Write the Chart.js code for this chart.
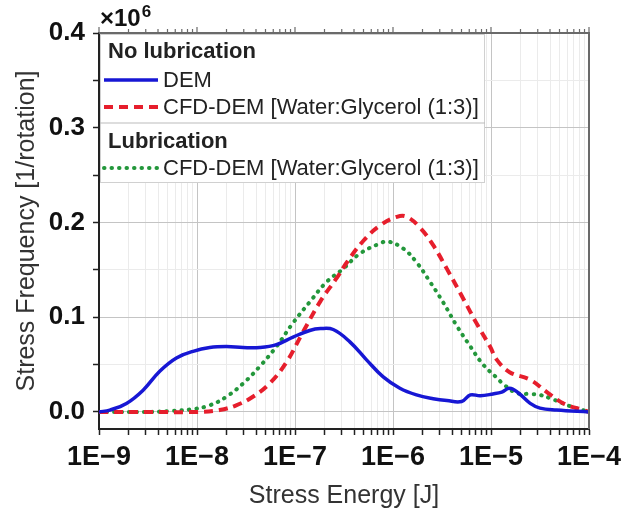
<!DOCTYPE html>
<html>
<head>
<meta charset="utf-8">
<script src="https://cdn.jsdelivr.net/npm/chart.js@4"></script>
<style>
  body { margin: 0; background: #fff; }
  #wrap { width: 638px; height: 517px; }
</style>
</head>
<body>
<div id="wrap"><canvas id="stress"></canvas></div>
<script>
const FONT = "'Liberation Sans', Arial, sans-serif";

// stress energy as log10(E / J), frequency in units of 1e6 per rotation
const demExp = [-9, -8.89, -8.72, -8.55, -8.38, -8.21, -8.04, -7.87, -7.70, -7.53, -7.36, -7.19, -7.02, -6.85, -6.74, -6.61, -6.44, -6.27, -6.10, -5.93, -5.76, -5.59, -5.45, -5.30, -5.21, -5.11, -4.98, -4.89, -4.81, -4.72, -4.60, -4.50, -4.33, -4];
const demFreq = [0, 0.002, 0.009, 0.023, 0.043, 0.057, 0.064, 0.068, 0.069, 0.068, 0.068, 0.071, 0.079, 0.086, 0.088, 0.087, 0.074, 0.055, 0.037, 0.025, 0.018, 0.014, 0.012, 0.011, 0.018, 0.017, 0.019, 0.021, 0.025, 0.020, 0.009, 0.004, 0.002, 0];

const cfdExp = [-9, -8.5, -8.0, -7.77, -7.6, -7.43, -7.26, -7.09, -6.92, -6.74, -6.57, -6.47, -6.30, -6.13, -5.96, -5.86, -5.72, -5.59, -5.45, -5.28, -5.15, -5.01, -4.94, -4.81, -4.60, -4.43, -4.26, -4.06, -4];
const cfdFreq = [0, 0, 0, 0.002, 0.007, 0.016, 0.030, 0.052, 0.084, 0.117, 0.142, 0.158, 0.181, 0.197, 0.206, 0.206, 0.194, 0.176, 0.151, 0.119, 0.094, 0.069, 0.055, 0.042, 0.034, 0.021, 0.009, 0.002, 0];

const lubExp = [-9, -8.5, -8.28, -8.04, -7.87, -7.70, -7.53, -7.36, -7.19, -7.02, -6.85, -6.68, -6.51, -6.34, -6.13, -6.05, -5.89, -5.76, -5.62, -5.49, -5.35, -5.21, -5.08, -4.94, -4.87, -4.74, -4.60, -4.50, -4.36, -4.19, -4];
const lubFreq = [0, 0, 0.001, 0.003, 0.007, 0.016, 0.030, 0.048, 0.069, 0.094, 0.116, 0.137, 0.151, 0.167, 0.178, 0.180, 0.172, 0.158, 0.137, 0.116, 0.091, 0.069, 0.050, 0.036, 0.029, 0.020, 0.019, 0.018, 0.013, 0.006, 0];

const seriesLabels = ["DEM", "CFD-DEM [Water:Glycerol (1:3)]", "CFD-DEM [Water:Glycerol (1:3)]"];
const groupTitles = ["No lubrication", "Lubrication"];

const decades = [-9, -8, -7, -6, -5, -4];
const freqTicks = [0, 0.05, 0.1, 0.15, 0.2, 0.25, 0.3, 0.35, 0.4];

function toPoints(exps, vals) {
  return exps.map((e, i) => ({ x: Math.pow(10, e), y: vals[i] }));
}

function isDecade(v) {
  const l = Math.log10(v);
  return Math.abs(l - Math.round(l)) < 1e-9;
}

// 1..9 x 10^k for every decade, ending at the last decade
const xTicks = [];
decades.forEach((d, i) => {
  const last = i === decades.length - 1;
  for (let m = 1; m <= (last ? 1 : 9); m++) xTicks.push(m * Math.pow(10, d));
});

const framePlugin = {
  id: "frameAndKey",
  afterDraw(chart) {
    const { ctx, chartArea: a, scales } = chart;
    const ds = chart.data.datasets;
    ctx.save();

    // key box
    const boxL = a.left + 1, boxT = a.top + 1;
    const boxR = 485, boxB = a.top + 150;
    ctx.fillStyle = "#fff";
    ctx.fillRect(boxL, boxT, boxR - boxL, boxB - boxT);
    ctx.strokeStyle = "#d0d0d0";
    ctx.lineWidth = 1;
    ctx.strokeRect(boxL + 0.5, boxT + 0.5, boxR - boxL - 1, boxB - boxT - 1);
    ctx.beginPath();
    ctx.moveTo(boxL, a.top + 90);
    ctx.lineTo(boxR, a.top + 90);
    ctx.strokeStyle = "#bbb";
    ctx.stroke();

    ctx.textBaseline = "middle";
    ctx.fillStyle = "#222";
    ctx.font = "bold 22px " + FONT;
    ctx.fillText(groupTitles[0], boxL + 8, a.top + 19);
    ctx.fillText(groupTitles[1], boxL + 8, a.top + 109);

    const rows = [a.top + 47, a.top + 74, a.top + 135];
    ctx.font = "22px " + FONT;
    ds.forEach((d, i) => {
      const y = rows[i];
      ctx.save();
      ctx.strokeStyle = d.borderColor;
      ctx.lineWidth = d.borderWidth;
      ctx.lineCap = d.borderCapStyle || "butt";
      ctx.setLineDash(d.borderDash || []);
      ctx.beginPath();
      ctx.moveTo(boxL + 4, y);
      ctx.lineTo(boxL + 58, y);
      ctx.stroke();
      ctx.restore();
      ctx.fillText(d.label, boxL + 63, y + 1);
    });

    // top and right edges of the frame with ticks along the top
    ctx.strokeStyle = "#6a6a6a";
    ctx.lineWidth = 2;
    ctx.beginPath();
    ctx.moveTo(a.left, a.top);
    ctx.lineTo(a.right, a.top);
    ctx.lineTo(a.right, a.bottom);
    ctx.stroke();
    ctx.lineWidth = 1.2;
    xTicks.forEach(v => {
      const px = scales.x.getPixelForValue(v);
      ctx.beginPath();
      ctx.moveTo(px, a.top);
      ctx.lineTo(px, a.top - (isDecade(v) ? 6 : 4));
      ctx.stroke();
    });

    // axis multiplier
    ctx.fillStyle = "#111";
    ctx.textBaseline = "alphabetic";
    ctx.font = "bold 24px " + FONT;
    ctx.fillText("\u00d710", a.left + 1, 26);
    const w = ctx.measureText("\u00d710").width;
    ctx.font = "bold 17px " + FONT;
    ctx.fillText("6", a.left + 2 + w, 17);
    ctx.restore();
  }
};

new Chart(document.getElementById("stress"), {
  type: "line",
  data: {
    datasets: [
      {
        label: seriesLabels[0],
        data: toPoints(demExp, demFreq),
        borderColor: "#1717d4",
        borderWidth: 3.5,
      },
      {
        label: seriesLabels[1],
        data: toPoints(cfdExp, cfdFreq),
        borderColor: "#e61e2c",
        borderWidth: 4,
        borderDash: [9, 6],
      },
      {
        label: seriesLabels[2],
        data: toPoints(lubExp, lubFreq),
        borderColor: "#23973b",
        borderWidth: 4,
        borderDash: [0.5, 7],
        borderCapStyle: "round",
      },
    ],
  },
  options: {
    animation: false,
    responsive: true,
    maintainAspectRatio: false,
    layout: { padding: { top: 33, right: 49, left: 0, bottom: 0 } },
    elements: {
      point: { radius: 0 },
      line: { tension: 0.4, fill: false },
    },
    plugins: {
      legend: { display: false },
      tooltip: { enabled: false },
    },
    scales: {
      x: {
        type: "logarithmic",
        min: 1e-9,
        max: 1e-4,
        afterBuildTicks: (scale) => { scale.ticks = xTicks.map(v => ({ value: v })); },
        afterFit: (scale) => { scale.height = 88; },
        ticks: {
          autoSkip: false,
          maxRotation: 0,
          padding: 6,
          color: "#111",
          font: { family: FONT, size: 27, weight: "bold" },
          callback: (v) => isDecade(v) ? "1E\u2212" + Math.abs(Math.round(Math.log10(v))) : "",
        },
        grid: {
          color: (c) => isDecade(c.tick.value) ? "#c4c4c4" : "#ebebeb",
          lineWidth: 1,
          tickColor: "#222",
          tickLength: 6,
          tickWidth: 1.5,
        },
        border: { color: "#222", width: 2 },
        title: {
          display: true,
          text: "Stress Energy [J]",
          color: "#333",
          font: { family: FONT, size: 25 },
          padding: { top: 0, bottom: 6 },
        },
      },
      y: {
        min: -0.018,
        max: 0.4,
        afterBuildTicks: (scale) => { scale.ticks = freqTicks.map(v => ({ value: v })); },
        afterFit: (scale) => { scale.width = 99; },
        ticks: {
          autoSkip: false,
          padding: 8,
          color: "#111",
          font: { family: FONT, size: 26, weight: "bold" },
          callback: (v) => Math.abs(v * 10 - Math.round(v * 10)) < 1e-6 ? v.toFixed(1) : "",
        },
        grid: {
          color: (c) => Math.abs(c.tick.value * 10 - Math.round(c.tick.value * 10)) < 1e-6 ? "#c4c4c4" : "#ebebeb",
          lineWidth: 1,
          tickColor: "#222",
          tickLength: 6,
          tickWidth: 1.5,
        },
        border: { color: "#222", width: 2 },
        title: {
          display: true,
          text: "Stress Frequency [1/rotation]",
          color: "#333",
          font: { family: FONT, size: 25 },
          padding: { top: 12, bottom: 0 },
        },
      },
    },
  },
  plugins: [framePlugin],
});
</script>
</body>
</html>
